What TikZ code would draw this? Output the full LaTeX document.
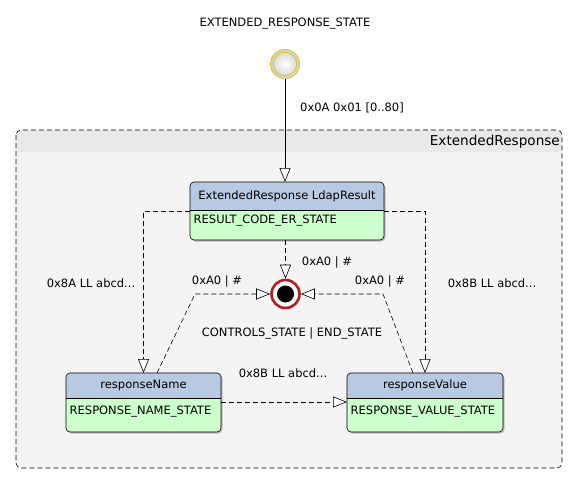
\documentclass[tikz,border=0pt]{standalone}
\usepackage{fontspec}
\setmainfont{DejaVu Sans}
\usetikzlibrary{arrows.meta}
\definecolor{hdrblue}{RGB}{184,201,226}
\definecolor{bodygreen}{RGB}{204,255,204}
\definecolor{contfill}{RGB}{244,244,244}
\definecolor{contband}{RGB}{233,233,233}
\definecolor{initring}{RGB}{226,196,40}
\definecolor{finring}{RGB}{178,30,30}
\tikzset{
  lbl/.style={font=\fontsize{11.5}{13}\selectfont, inner sep=0pt},
  stbox/.style={inner sep=0pt, outer sep=0pt},
  arr/.style={-{Triangle[open,length=14pt,width=11pt,fill=white]}, line width=0.6pt},
  darr/.style={arr, dash pattern=on 5pt off 3pt},
}
\newcommand{\stdraw}[5]{%
  % #1 node name, #2 header height, #3 title, #4 body, #5 body offset
  \fill[black!25, rounded corners=4pt] ([xshift=1.5pt,yshift=-1.5pt]#1.north west) rectangle ([xshift=1.5pt,yshift=-1.5pt]#1.south east);
  \begin{scope}
    \clip[rounded corners=4pt] (#1.north west) rectangle (#1.south east);
    \fill[bodygreen] (#1.north west) rectangle (#1.south east);
    \fill[hdrblue] (#1.north west) rectangle ([yshift=-#2pt]#1.north east);
  \end{scope}
  \draw[line width=0.6pt, rounded corners=4pt] (#1.north west) rectangle (#1.south east);
  \draw[line width=0.6pt] ([yshift=-#2pt]#1.north west) -- ([yshift=-#2pt]#1.north east);
  \node[lbl] (#1-title) at ([yshift=-#2pt/2]#1.north) {#3};
  \node[lbl, anchor=west] (#1-body) at ([xshift=3.5pt,yshift=-#5pt]#1.north west) {#4};
}
\begin{document}
\begin{tikzpicture}[x=1pt,y=-1pt]
\useasboundingbox (0,0) rectangle (577,484);
\fill[white] (0,0) rectangle (577,484);
% container
\begin{scope}
  \clip[rounded corners=5pt] (16,130) rectangle (562,468);
  \fill[contfill] (16,130) rectangle (562,468);
  \fill[contband] (16,130) rectangle (562,152);
\end{scope}
\draw[line width=0.6pt, dash pattern=on 5pt off 3pt, rounded corners=5pt] (16,130) rectangle (562,468);
\node[lbl, font=\fontsize{13.6}{15}\selectfont, anchor=east] (contlbl) at (560,141.5) {ExtendedResponse};

% title and initial state
\node[lbl] (title) at (285,24) {EXTENDED\_RESPONSE\_STATE};
\node[circle, minimum size=29pt, inner sep=0pt, draw=initring, line width=0.9pt, inner color=white, outer color=black!18] (init) at (285,64) {};
\draw[initring, line width=0.9pt] (init.center) circle (11.8pt);

% states
\node[stbox, minimum width=194pt, minimum height=58pt] (ldap) at (287,211) {};
\stdraw{ldap}{28}{ExtendedResponse LdapResult}{RESULT\_CODE\_ER\_STATE}{39}
\node[stbox, minimum width=155pt, minimum height=59pt] (rname) at (143.5,402.5) {};
\stdraw{rname}{25.5}{responseName}{RESPONSE\_NAME\_STATE}{39}
\node[stbox, minimum width=156pt, minimum height=59pt] (rval) at (425,402.5) {};
\stdraw{rval}{25.5}{responseValue}{RESPONSE\_VALUE\_STATE}{39}

% final state
\node[circle, minimum size=28pt, inner sep=0pt, fill=white, draw=finring, line width=2.6pt] (final) at (285.5,294) {};
\fill[black] (final.center) circle (8.5pt);

% connectors
\draw[arr] (init.south) -- (init.south |- ldap.north);
\node[lbl, anchor=west] (l0) at (300,108) {0x0A 0x01 [0..80]};

\draw[darr] ([yshift=-29pt]ldap.north west) -| (rname.north);
\node[lbl] (l1) at (91,283) {0x8A LL abcd...};
\draw[darr] ([yshift=-29pt]ldap.north east) -| (rval.north);
\node[lbl] (l2) at (492,283) {0x8B LL abcd...};

\draw[darr] (ldap.south -| final) -- (final.north);
\node[lbl] (l3) at (327,262) {0xA0 | \#};

\coordinate (lb) at (195,294);
\coordinate (rb) at (383,294);
\draw[darr] ([xshift=13.5pt]rname.north) -- (lb) -- (final.west);
\node[lbl] (l4) at (217,281) {0xA0 | \#};
\draw[darr] ([xshift=-12pt]rval.north) -- (rb) -- (final.east);
\node[lbl] (l5) at (380,281) {0xA0 | \#};
\node[lbl] (l6) at (292,333) {CONTROLS\_STATE | END\_STATE};

\draw[darr] ([yshift=-29pt]rname.north east) -- ([yshift=-29pt]rval.north west);
\node[lbl] (l7) at (283,373) {0x8B LL abcd...};
\end{tikzpicture}
\end{document}
